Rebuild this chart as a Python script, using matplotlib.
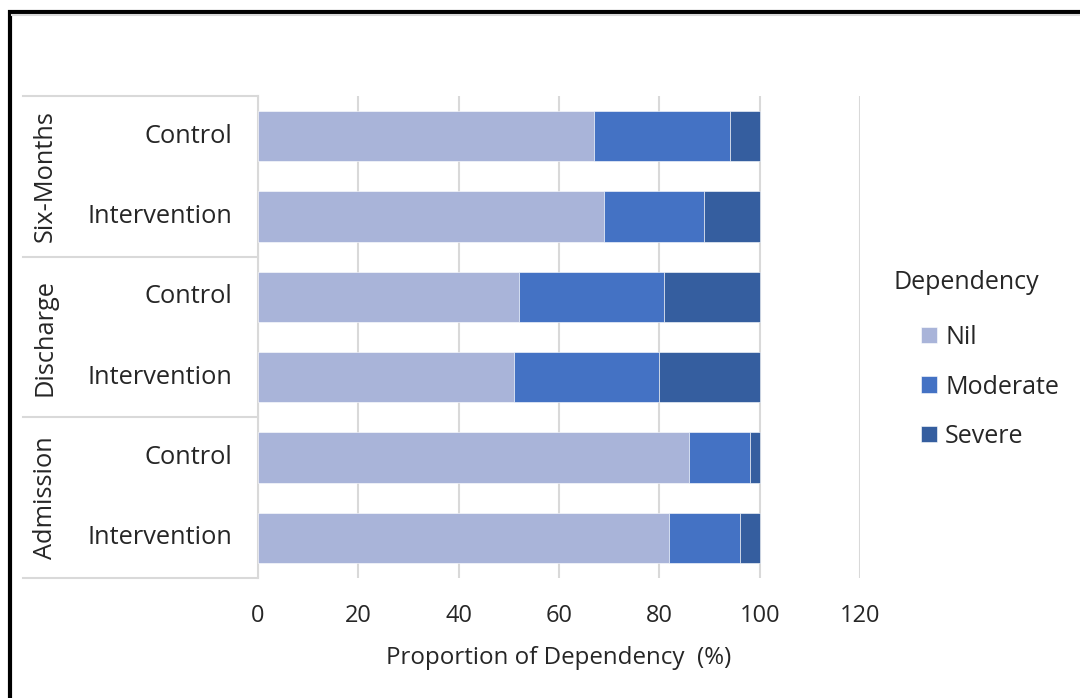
import matplotlib
matplotlib.use("Agg")
import matplotlib.pyplot as plt
from matplotlib.patches import Rectangle
from matplotlib.lines import Line2D
import matplotlib.transforms as mtransforms

# Data (bottom to top)
periods = ["Admission", "Discharge", "Six-Months"]
groups = ["Intervention", "Control"]
nil = [82, 86, 51, 52, 69, 67]
moderate = [14, 12, 29, 29, 20, 27]
severe = [4, 2, 20, 19, 11, 6]
series_names = ["Nil", "Moderate", "Severe"]
colors = ["#A9B4D9", "#4472C4", "#355E9F"]
xticks = [0, 20, 40, 60, 80, 100, 120]

plt.rcParams["font.family"] = ["Open Sans", "DejaVu Sans"]
text_color = "#262626"
grid_color = "#D9D9D9"

W, H = 1080, 698
fig = plt.figure(figsize=(W / 100, H / 100), dpi=100)
ax = fig.add_axes([258 / W, 1 - 578 / H, (860 - 258) / W, (578 - 96) / H])

n = len(nil)
ypos = list(range(n))
left = [0] * n
handles = []
for vals, name, col in zip([nil, moderate, severe], series_names, colors):
    bars = ax.barh(ypos, vals, left=left, height=0.625, color=col, label=name,
                   edgecolor="white", linewidth=0.4, zorder=3)
    handles.append(bars)
    left = [a + b for a, b in zip(left, vals)]

ax.set_xlim(0, 120)
ax.set_ylim(-0.5, n - 0.5)
ax.set_xticks(xticks)
ax.set_xticklabels([str(t) for t in xticks])
ax.set_yticks([])
ax.tick_params(axis="x", length=0, pad=19, labelsize=17, labelcolor=text_color)
ax.grid(axis="x", color=grid_color, linewidth=1.5, zorder=0)
for s in ["top", "right", "bottom"]:
    ax.spines[s].set_visible(False)
ax.spines["left"].set_color(grid_color)
ax.spines["left"].set_linewidth(1.5)
ax.set_xlabel("Proportion of Dependency  (%)", fontsize=17.4, color=text_color,
              labelpad=13)

# Multi-level category labels on the left
trans = mtransforms.blended_transform_factory(fig.transFigure, ax.transData)
x_left = 23 / W
x_axis = 258 / W
for i in range(n):
    ax.text(232 / W, ypos[i], groups[i % 2], transform=trans, ha="right",
            va="center", fontsize=18.3, color=text_color)
for k, p in enumerate(periods):
    ax.text(45 / W, 2 * k + 0.5, p, transform=trans, ha="center", va="center",
            rotation=90, fontsize=18.3, color=text_color)
for b in [-0.5, 1.5, 3.5, 5.5]:
    ax.add_line(Line2D([x_left, x_axis], [b, b], transform=trans, color=grid_color,
                       linewidth=1.5, clip_on=False))

# Legend with its title placed above it
fig.text(893 / W, 1 - 282 / H, "Dependency", ha="left", va="center",
         fontsize=18, color=text_color)
leg = fig.legend(handles=handles, labels=series_names, loc="center left",
                 bbox_to_anchor=(921 / W, 1 - 387 / H), frameon=False,
                 fontsize=18, handlelength=0.64, handleheight=0.64,
                 handletextpad=0.32, labelspacing=0.98, borderpad=0,
                 borderaxespad=0)
for t in leg.get_texts():
    t.set_color(text_color)

# Outer frame
fig.add_artist(Line2D([12 / W, 1.0], [1 - 15 / H, 1 - 15 / H], transform=fig.transFigure,
                      color=grid_color, linewidth=1.5))
fig.patches.append(Rectangle((9.5 / W, -0.05), 1.2, 1 - 12 / H + 0.05,
                             transform=fig.transFigure, fill=False,
                             edgecolor="black", linewidth=3))

fig.savefig("out.png", dpi=100)
